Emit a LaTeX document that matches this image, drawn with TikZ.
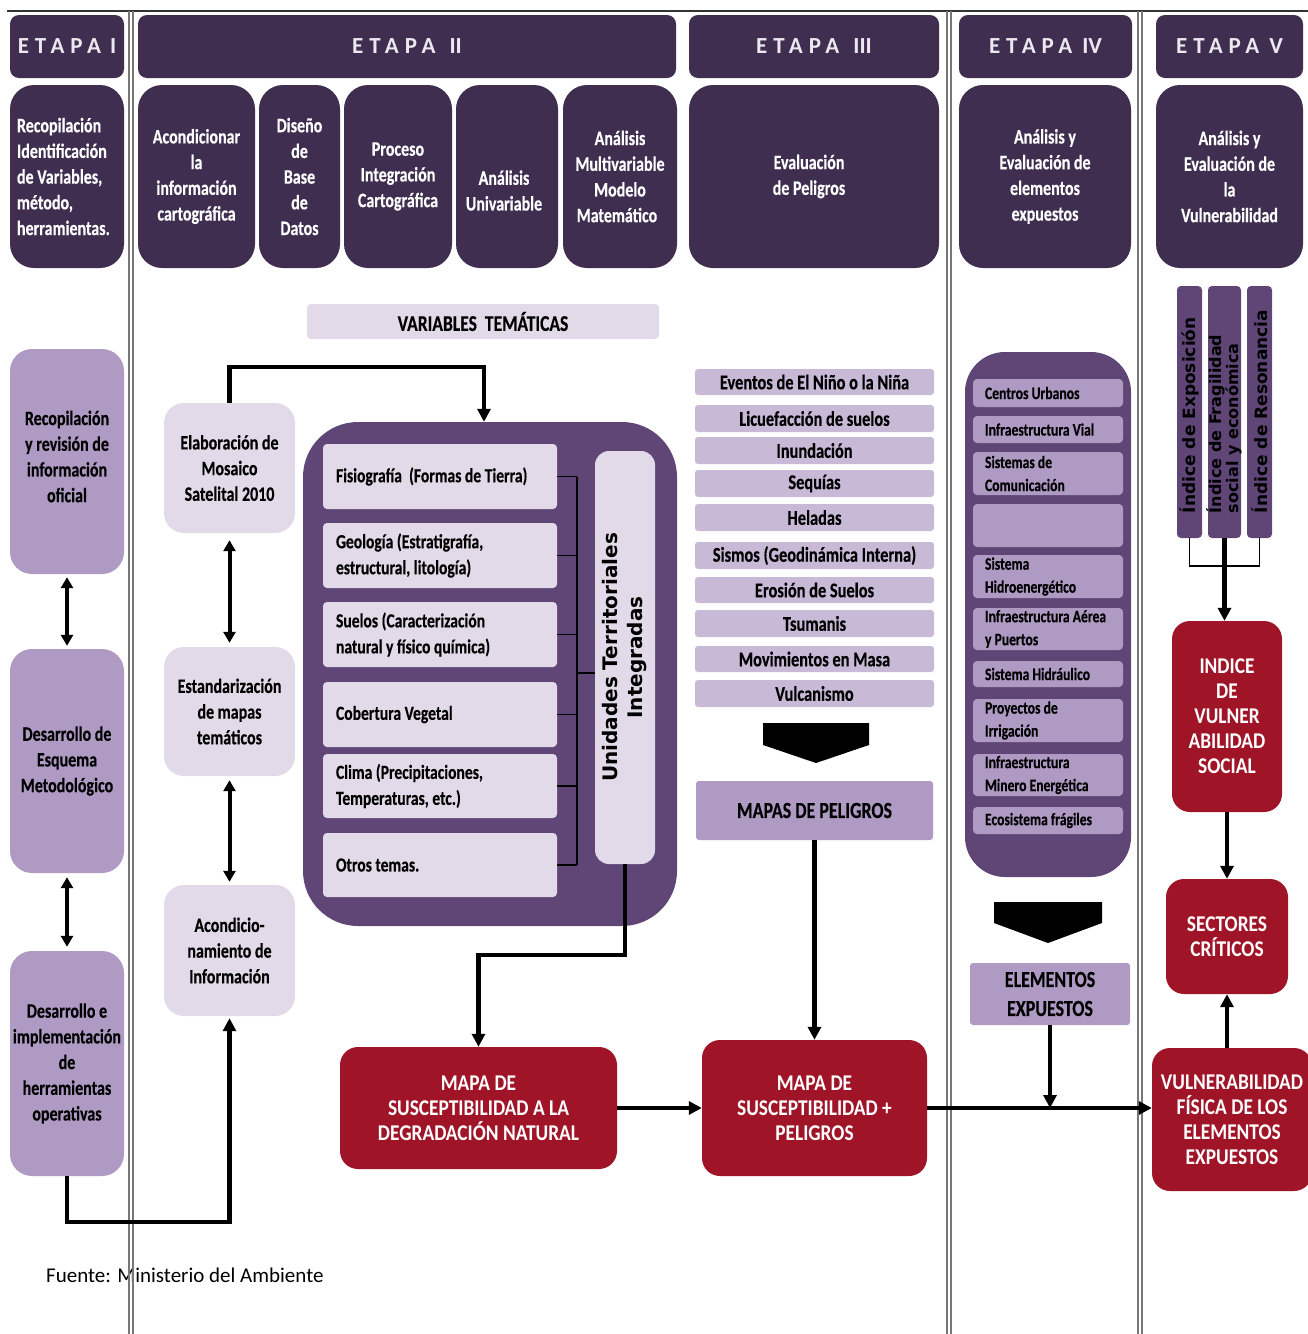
\documentclass[tikz,border=0pt]{standalone}
\usepackage{fontspec}
\setmainfont{Carlito}[FakeStretch=0.78, BoldFeatures={FakeBold=0.3}]
\newfontfamily\redfont{Carlito}[FakeStretch=0.86]
\newfontfamily\plainfont{Carlito}
\newfontfamily\vfont{DejaVu Sans}
\usetikzlibrary{arrows.meta,calc}
\definecolor{hdr}{HTML}{3F2E4F}
\definecolor{bigp}{HTML}{5F4676}
\definecolor{lavm}{HTML}{AE9AC3}
\definecolor{lavh}{HTML}{C8BAD7}
\definecolor{lavl}{HTML}{E2DAE8}
\definecolor{redb}{HTML}{A01428}
\definecolor{hdrtxt}{HTML}{ECE8EF}
\definecolor{sepc}{HTML}{777777}
\newcommand\fsz[2]{\fontsize{#1}{#2}\selectfont}
\newcommand\lsp{\addfontfeature{LetterSpace=26}}
\newcommand\bx[7]{\node[#2, minimum width={(#5)-(#3)}, minimum height={(#6)-(#4)}] (#1) at ({((#3)+(#5))/2},{((#4)+(#6))/2}) {#7};}
\begin{document}
\begin{tikzpicture}[x=1pt,y=-1pt,
  box/.style={inner sep=0pt, align=center},
  hdrbox/.style={box, fill=hdr, rounded corners=9pt, text=hdrtxt, font=\plainfont\bfseries\fsz{23}{27}},
  stg/.style={box, fill=hdr, rounded corners=24pt, text=white, font=\bfseries\fsz{20.5}{25.7}},
  eone/.style={box, fill=lavm, rounded corners=22pt, font=\bfseries\fsz{20.5}{25.7}},
  lt/.style={box, fill=lavl, rounded corners=20pt, font=\bfseries\fsz{20.5}{25.7}},
  itm/.style={box, fill=lavl, rounded corners=4pt, align=flush left, text width=208pt, font=\bfseries\fsz{20}{26}},
  hz/.style={box, fill=lavh, rounded corners=3pt, font=\bfseries\fsz{21}{24}},
  efour/.style={box, fill=lavm, rounded corners=4pt, align=flush left, text width=126pt, font=\bfseries\fsz{17.5}{23}},
  redbox/.style={box, fill=redb, rounded corners=18pt, text=white, font=\redfont\bfseries\fsz{22.5}{25}},
  midbox/.style={box, fill=lavm, rounded corners=3pt, font=\bfseries\fsz{23}{29}},
  bar/.style={box, fill=bigp, rounded corners=4pt},
  vtxt/.style={rotate=90, inner sep=0pt, font=\vfont\bfseries\fsz{17}{17}},
  conn/.style={line width=4.5pt, line join=miter, -{Triangle[width=13pt,length=13pt]}},
  darr/.style={line width=4pt, {Triangle[width=12pt,length=11pt]}-{Triangle[width=12pt,length=11pt]}},
  thinl/.style={line width=1.8pt},
  sepl/.style={sepc, line width=1.2pt},
  chev/.style={fill=black}
]
\useasboundingbox (0,0) rectangle (1308,1334);

% footer (under the separator line)
\node[font=\plainfont\fsz{21}{25}, anchor=west, inner sep=0pt] (src) at (46,1275) {Fuente: Ministerio del Ambiente};

% column separators
\draw[black!80, line width=1.4pt] (7,11) -- (1308,11);
\foreach \xx in {129,133,947,951,1138,1142}{\draw[sepl] (\xx,11) -- (\xx,1334);}

% headers
\bx{h1}{hdrbox}{10}{15}{124}{78}{{\lsp ETAPA}\hspace{9pt}I}
\bx{h2}{hdrbox}{138}{15}{676}{78}{{\lsp ETAPA}\hspace{14pt}II}
\bx{h3}{hdrbox}{689}{15}{939}{78}{{\lsp ETAPA}\hspace{14pt}III}
\bx{h4}{hdrbox}{959}{15}{1132}{78}{{\lsp ETAPA}\hspace{10pt}IV}
\bx{h5}{hdrbox}{1156}{15}{1303}{78}{{\lsp ETAPA}\hspace{10pt}V}

% second row
\bx{s1}{stg,align=flush left,text width=100pt}{10}{85}{124}{268}{Recopilación\\Identificación\\de Variables,\\método,\\herramientas.}
\bx{s2}{stg}{138}{85}{255}{268}{Acondicionar\\la\\información\\cartográfica}
\bx{s3}{stg}{259}{85}{340}{268}{Diseño\\de\\Base\\de\\Datos}
\bx{s4}{stg}{344}{85}{452}{268}{Proceso\\Integración\\Cartográfica}
\bx{s5}{stg}{456}{85}{558}{268}{}
\node[box, text=white, font=\bfseries\fsz{20.5}{25.7}] (s5t) at ([xshift=-3pt,yshift=-14pt]s5.center) {Análisis\\Univariable};
\bx{s6}{stg}{563}{85}{677}{268}{Análisis\\Multivariable\\Modelo\\Matemático\hspace*{6pt}}
\bx{s7}{stg}{689}{85}{939}{268}{Evaluación\hspace*{10pt}\\de Peligros\hspace*{10pt}}
\bx{s8}{stg}{959}{85}{1131}{268}{Análisis y\\Evaluación de\\elementos\\expuestos}
\bx{s9}{stg}{1156}{85}{1303}{268}{Análisis y\\Evaluación de\\la\\Vulnerabilidad}

% Etapa I column
\bx{e1a}{eone}{10}{349}{124}{574}{}
\node[box, font=\bfseries\fsz{20.5}{25.7}] (e1at) at ([yshift=5pt]e1a.center) {Recopilación\\y revisión de\\información\\oficial};
\bx{e1b}{eone}{10}{649}{124}{873}{Desarrollo de\\Esquema\\Metodológico}
\bx{e1c}{eone}{10}{951}{124}{1176}{Desarrollo e\\implementación\\de\\herramientas\\operativas}

% Etapa II left column
\bx{elab}{lt}{164}{403}{295}{533}{Elaboración de\\Mosaico\\Satelital 2010}
\bx{estd}{lt}{164}{647}{295}{776}{Estandarización\\de mapas\\temáticos}
\bx{acd}{lt}{164}{885}{295}{1016}{Acondicio-\\namiento de\\Información}

\bx{vt}{lt,rounded corners=4pt,font=\bfseries\fsz{22.5}{25}}{307}{304}{659}{339}{VARIABLES\ \ TEMÁTICAS}

% big box
\bx{bigbox}{box,fill=bigp,rounded corners=55pt}{303}{422}{677}{926}{}
\bx{fis}{itm}{323}{444}{557}{509}{Fisiografía\ \ (Formas de Tierra)}
\bx{geo}{itm}{323}{523}{557}{588}{Geología (Estratigrafía,\\estructural, litología)}
\bx{sue}{itm}{323}{602}{557}{667}{Suelos (Caracterización\\natural y físico química)}
\bx{cob}{itm}{323}{682}{557}{747}{Cobertura Vegetal}
\bx{cli}{itm}{323}{754}{557}{818}{Clima (Precipitaciones,\\Temperaturas, etc.)}
\bx{otr}{itm}{323}{833}{557}{897}{Otros temas.}
\bx{uti}{box,fill=lavl,rounded corners=14pt}{595}{451}{655}{864}{}
\node[rotate=90, inner sep=0pt, align=center, font=\vfont\bfseries\fsz{20}{25}] (utit) at (uti.center) {Unidades Territoriales\\Integradas};

% Etapa III
\bx{hz1}{hz}{695}{369}{934}{395}{Eventos de El Niño o la Niña}
\bx{hz2}{hz}{695}{405}{934}{432}{Licuefacción de suelos}
\bx{hz3}{hz}{695}{437}{934}{464}{Inundación}
\bx{hz4}{hz}{695}{470}{934}{497}{Sequías}
\bx{hz5}{hz}{695}{504}{934}{531}{Heladas}
\bx{hz6}{hz}{695}{542}{934}{569}{Sismos (Geodinámica Interna)}
\bx{hz7}{hz}{695}{577}{934}{603}{Erosión de Suelos}
\bx{hz8}{hz}{695}{610}{934}{637}{Tsumanis}
\bx{hz9}{hz}{695}{646}{934}{672}{Movimientos en Masa}
\bx{hz10}{hz}{695}{680}{934}{707}{Vulcanismo}
\fill[chev] (763,723) -- (869,723) -- (869,745) -- (816,763) -- (763,745) -- cycle;
\bx{mpel}{midbox}{696}{781}{933}{840}{MAPAS DE PELIGROS}

% red maps
\bx{map1}{redbox}{340}{1047}{617}{1169}{MAPA DE\\SUSCEPTIBILIDAD A LA\\DEGRADACIÓN NATURAL}
\bx{map2}{redbox}{702}{1040}{927}{1176}{MAPA DE\\SUSCEPTIBILIDAD +\\PELIGROS}

% Etapa IV
\bx{e4box}{box,fill=bigp,rounded corners=40pt}{965}{352}{1131}{877}{}
\bx{c1}{efour}{973}{379}{1123}{407}{Centros Urbanos}
\bx{c2}{efour}{973}{416}{1123}{443}{Infraestructura Vial}
\bx{c3}{efour}{973}{452}{1123}{495}{Sistemas de\\Comunicación}
\bx{c4}{efour}{973}{504}{1123}{547}{}
\bx{c5}{efour}{973}{555}{1123}{598}{Sistema\\Hidroenergético}
\bx{c6}{efour}{973}{608}{1123}{650}{Infraestructura Aérea\\y Puertos}
\bx{c7}{efour}{973}{661}{1123}{687}{Sistema Hidráulico}
\bx{c8}{efour}{973}{699}{1123}{742}{Proyectos de\\Irrigación}
\bx{c9}{efour}{973}{754}{1123}{796}{Infraestructura\\Minero Energética}
\bx{c10}{efour}{973}{807}{1123}{834}{Ecosistema frágiles}
\fill[chev] (994,902) -- (1102,902) -- (1102,923) -- (1048,943) -- (994,923) -- cycle;
\bx{elem}{midbox}{970}{963}{1130}{1025}{ELEMENTOS\\EXPUESTOS}

% Etapa V
\bx{ie1}{bar}{1177}{286}{1202}{538}{}
\bx{ie2}{bar}{1208}{286}{1241}{538}{}
\bx{ie3}{bar}{1247}{286}{1272}{538}{}
\node[vtxt, anchor=west] (ie1t) at ([yshift=25pt]ie1.south) {Índice de Exposición};
\node[vtxt, anchor=west, align=left, font=\vfont\bfseries\fsz{16}{16}] (ie2t) at ([yshift=25pt]ie2.south) {Índice de Fragilidad\\social y económica};
\node[vtxt, anchor=west] (ie3t) at ([yshift=25pt]ie3.south) {Índice de Resonancia};
\bx{ivs}{redbox}{1172}{621}{1282}{812}{INDICE\\DE\\VULNER\\ABILIDAD\\SOCIAL}
\bx{sect}{redbox}{1166}{879}{1288}{994}{SECTORES\\CRÍTICOS}
\bx{vfis}{redbox}{1152}{1048}{1312}{1191}{VULNERABILIDAD\\FÍSICA DE LOS\\ELEMENTOS\\EXPUESTOS}

% coordinates for bends
\coordinate (k1) at (484,367);
\coordinate (k2) at (0,1222);
\coordinate (k3) at (577,0);
\coordinate (k4) at (577,673);
\coordinate (k5) at (0,955);
\coordinate (k6) at (0,566);

% connectors
\draw[darr] ([yshift=-3pt]e1a.south) -- ([yshift=3pt]e1b.north);
\draw[darr] ([yshift=-4pt]e1b.south) -- ([yshift=4pt]e1c.north);
\draw[conn] (e1c.south) -- (e1c.south |- k2) -| ([yshift=-2pt]acd.south);
\draw[darr] ([yshift=-7pt]elab.south) -- ([yshift=4pt]estd.north);
\draw[darr] ([yshift=-4pt]estd.south) -- ([yshift=3pt]acd.north);
\draw[conn] (elab.north) |- (k1) -- (k1 |- bigbox.north);
\foreach \n in {fis,geo,sue,cob,cli,otr}{\draw[thinl] (\n.east) -- (\n.east -| k3);}
\draw[thinl] (fis.east -| k3) -- (otr.east -| k3);
\draw[thinl] (k4) -- (k4 -| uti.west);
\draw[conn] (uti.south) -- (uti.south |- k5) -| (map1.north);
\draw[conn] (map1.east) -- (map1.east -| map2.west);
\draw[conn] (mpel.south) -- (map2.north);
\draw[conn] (map2.east) -- (map2.east -| vfis.west);
\draw[conn] (elem.south) -- (elem.south |- map2.east);
\draw[thinl] (ie1.south) -- (ie1.south |- k6) -- (ie3.south |- k6) -- (ie3.south);
\draw[conn] (ie2.south) -- (ie2.south |- ivs.north);
\draw[conn] (ivs.south) -- (sect.north);
\draw[conn] (sect.south |- vfis.north) -- (sect.south);
\end{tikzpicture}
\end{document}
